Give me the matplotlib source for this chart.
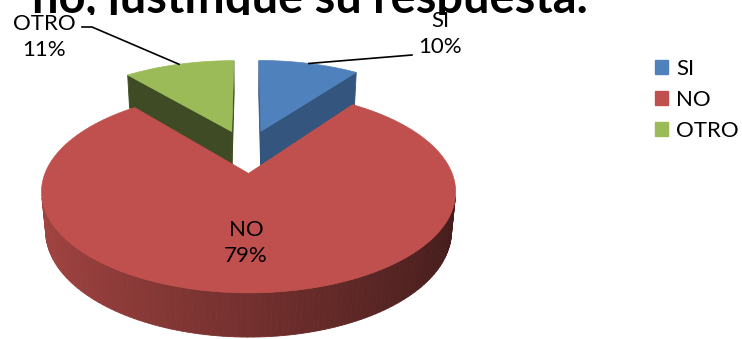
import numpy as np
import matplotlib
import matplotlib.pyplot as plt
from matplotlib.patches import Polygon, Patch
from matplotlib.transforms import Bbox

labels = ['SI', 'NO', 'OTRO']
values = [10, 79, 11]
colors = ['#4F81BD', '#C0504D', '#9BBB59']
title = 'no, justifique su respuesta.'

plt.rcParams['font.family'] = ['Lato', 'DejaVu Sans']

# 3d pie look, worked out in pixel space
cx, cy = 247, 151
F = 200
Fx = 195
phi = np.radians(26.6)
k = 0.196
depth = 0.213
explode = 0.24
cut_shade = [0.66, 0.5, 0.40]

cam = np.array([0, -np.cos(phi) / k, np.sin(phi) / k])


def proj(x, y, z):
    w = 1 + k * (y * np.cos(phi) - z * np.sin(phi))
    return cx + Fx * x / w, cy - F * (y * np.sin(phi) + z * np.cos(phi)) / w


def shade(c, f):
    r, g, b = matplotlib.colors.to_rgb(c)
    return (r * f, g * f, b * f)


def seen(p, n):
    return np.dot(cam - np.array(p), np.array(n)) > 0


fig = plt.figure(figsize=(7.42, 3.39), dpi=100)
ax = fig.add_axes([0, 0, 1, 1])
ax.set_xlim(0, 742)
ax.set_ylim(339, 0)
ax.axis('off')

fracs = np.array(values) / sum(values)
starts = 90 - 360 * np.concatenate([[0], np.cumsum(fracs)[:-1]])
ends = starts - 360 * fracs
mids = np.radians((starts + ends) / 2)

order = sorted(range(len(values)), key=lambda i: -np.sin(mids[i]))
z = 1
for i in order:
    col = colors[i]
    a1, a2 = np.radians(starts[i]), np.radians(ends[i])
    ox, oy = explode * np.cos(mids[i]), explode * np.sin(mids[i])
    ts = np.linspace(a2, a1, 200)

    # outer wall
    for t0, t1 in zip(ts[:-1], ts[1:]):
        tm = (t0 + t1) / 2
        if not seen((ox + np.cos(tm), oy + np.sin(tm), -depth / 2), (np.cos(tm), np.sin(tm), 0)):
            continue
        pts = [proj(ox + np.cos(t0), oy + np.sin(t0), 0), proj(ox + np.cos(t1), oy + np.sin(t1), 0),
               proj(ox + np.cos(t1), oy + np.sin(t1), -depth), proj(ox + np.cos(t0), oy + np.sin(t0), -depth)]
        c = shade(col, 0.6 - 0.25 * np.cos(tm))
        ax.add_patch(Polygon(pts, closed=True, facecolor=c, edgecolor=c, lw=0.6, zorder=z))
    z += 1

    # cut faces
    for a, na in [(a1, a1 + np.pi / 2), (a2, a2 - np.pi / 2)]:
        if not seen((ox + 0.5 * np.cos(a), oy + 0.5 * np.sin(a), -depth / 2), (np.cos(na), np.sin(na), 0)):
            continue
        pts = [proj(ox, oy, 0), proj(ox + np.cos(a), oy + np.sin(a), 0),
               proj(ox + np.cos(a), oy + np.sin(a), -depth), proj(ox, oy, -depth)]
        c = shade(col, cut_shade[i])
        ax.add_patch(Polygon(pts, closed=True, facecolor=c, edgecolor=c, lw=0.6, zorder=z))
    z += 1

    # top
    pts = [proj(ox, oy, 0)] + [proj(ox + np.cos(t), oy + np.sin(t), 0) for t in ts]
    ax.add_patch(Polygon(pts, closed=True, facecolor=col, edgecolor=col, lw=0.5, zorder=z))
    z += 1

# labels
rim = [proj((1 + explode) * np.cos(m), (1 + explode) * np.sin(m), 0) for m in mids]
ax.plot([rim[0][0], 412], [rim[0][1], 55], color='black', lw=1.2, zorder=z)
ax.plot([rim[2][0], 92, 82], [rim[2][1], 27, 27], color='black', lw=1.2, zorder=z)

lab_pos = [(440, 34), (246, 243), (44, 37)]
for (x, y), lab, v in zip(lab_pos, labels, values):
    ax.text(x, y, f'{lab}\n{v}%', ha='center', va='center', fontsize=16,
            linespacing=1.4, color='black', zorder=z + 1)

handles = [Patch(facecolor=c, edgecolor=c) for c in colors]
fig.legend(handles, labels, loc='upper left', bbox_to_anchor=(655 / 742, 1 - 59 / 339),
           frameon=False, fontsize=16, handlelength=0.6, handleheight=0.6,
           handletextpad=0.35, labelspacing=0.5, borderpad=0, borderaxespad=0)

# title sits mostly above the picture, its lower part hidden by the plot area
t = fig.text(310 / 742, 1 - 12.5 / 339, title, ha='center', va='baseline',
             fontsize=33.8, fontweight='bold')
t.set_clip_on(True)
t.set_clip_box(Bbox([[0, 339 - 14.5], [742, 339]]))

fig.savefig('out.png', dpi=100)
